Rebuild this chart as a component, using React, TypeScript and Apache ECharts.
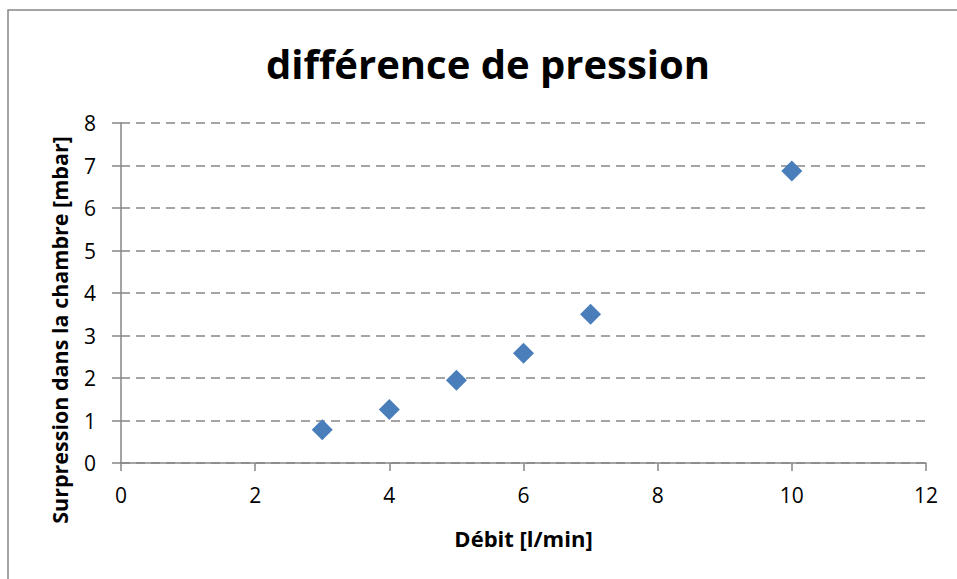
import React, { useEffect, useRef } from "react";
import * as echarts from "echarts";

const titleText = "différence de pression";
const xName = "Débit [l/min]";
const yName = "Surpression dans la chambre [mbar]";
const debit = [3, 4, 5, 6, 7, 10];
const surpression = [0.78, 1.26, 1.95, 2.58, 3.5, 6.87];

const FONT = "'Open Sans', 'Noto Sans', sans-serif";
const GRAY = "#868686";

export default function App() {
  const ref = useRef<HTMLDivElement>(null);
  useEffect(() => {
    if (!ref.current) return;
    const chart = echarts.init(ref.current, undefined, { renderer: "svg" });
    chart.setOption({
      animation: false,
      backgroundColor: "#ffffff",
      textStyle: { fontFamily: FONT },
      grid: { left: 121, right: 31, top: 123, bottom: 116, containLabel: false },
      graphic: [
        {
          type: "rect",
          shape: { x: 8, y: 10, width: 1000, height: 700 },
          style: { fill: "none", stroke: GRAY, lineWidth: 1.5 },
          silent: true,
          z: -1,
        },
        {
          type: "text",
          x: 488,
          y: 63,
          style: {
            text: titleText,
            fontFamily: FONT,
            fontSize: 40,
            fontWeight: "bold",
            fill: "#000000",
            align: "center",
            verticalAlign: "middle",
          },
        },
        {
          type: "text",
          x: 59,
          y: 330,
          rotation: Math.PI / 2,
          style: {
            text: yName,
            fontFamily: FONT,
            fontSize: 21.5,
            fontWeight: "bold",
            fill: "#000000",
            align: "center",
            verticalAlign: "middle",
          },
        },
      ],
      xAxis: {
        type: "value",
        min: 0,
        max: 12,
        interval: 2,
        name: xName,
        nameLocation: "middle",
        nameGap: 64,
        nameTextStyle: { fontFamily: FONT, fontSize: 22, fontWeight: "bold", color: "#000" },
        axisLine: { show: true, onZero: false, lineStyle: { color: GRAY, width: 1.5 } },
        axisTick: { show: true, length: 8, lineStyle: { color: GRAY, width: 1.5 } },
        axisLabel: { fontFamily: FONT, fontSize: 21, color: "#000", margin: 21 },
        splitLine: { show: false },
      },
      yAxis: {
        type: "value",
        min: 0,
        max: 8,
        interval: 1,
        axisLine: { show: true, onZero: false, lineStyle: { color: GRAY, width: 1.5 } },
        axisTick: { show: true, length: 9, lineStyle: { color: GRAY, width: 1.5 } },
        axisLabel: { fontFamily: FONT, fontSize: 21, color: "#000", margin: 25 },
        splitLine: {
          show: true,
          lineStyle: { color: GRAY, width: 1.5, type: [9, 6] },
        },
      },
      series: [
        {
          type: "scatter",
          symbol: "diamond",
          symbolSize: 21,
          itemStyle: { color: "#4a7ebb", opacity: 1 },
          data: debit.map((x, i) => [x, surpression[i]]),
        },
      ],
    });
    return () => chart.dispose();
  }, []);
  return (
    <div
      ref={ref}
      style={{ position: "fixed", left: 0, top: 0, width: 957, height: 579 }}
    />
  );
}
